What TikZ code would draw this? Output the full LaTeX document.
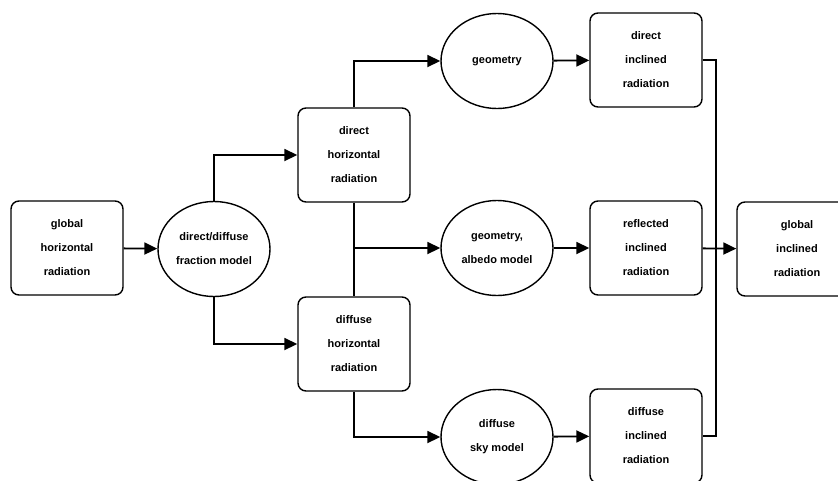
\documentclass[tikz,border=0pt]{standalone}
\usepackage{fontspec}
\setmainfont{Liberation Sans}
\usetikzlibrary{shapes.geometric,arrows.meta}

\begin{document}
\begin{tikzpicture}[x=1pt,y=1pt]
\tikzstyle{every node}+=[font=\fontsize{11}{24}\selectfont\bfseries, align=center, line width=1.4pt]
\tikzstyle{box}=[draw, rounded corners=8pt, minimum width=112pt, minimum height=94pt, inner sep=0pt]
\tikzstyle{model}=[draw, ellipse, minimum width=112pt, minimum height=95pt, inner sep=0pt]
\tikzstyle{flow}=[line width=1.8pt, -{Triangle[length=13pt,width=12pt]}]
\tikzstyle{wire}=[line width=1.8pt]
\useasboundingbox (0,0) rectangle (838,-480);
\node [box] (ghr) at (67,-248) {global\\horizontal\\radiation};
\node [model] (frac) at (214,-249) {direct/diffuse\\fraction model};
\node [box] (dhr) at (354,-155) {direct\\horizontal\\radiation};
\node [box] (fhr) at (354,-344) {diffuse\\horizontal\\radiation};
\node [model] (geo) at (497,-61) {geometry};
\node [model] (alb) at (497,-248) {geometry,\\albedo model};
\node [model] (sky) at (497,-437) {diffuse\\sky model};
\node [box] (dir) at (646,-60) {direct\\inclined\\radiation};
\node [box] (refl) at (646,-248) {reflected\\inclined\\radiation};
\node [box] (dif) at (646,-436) {diffuse\\inclined\\radiation};
\node [box, minimum width=120pt] (gir) at (797,-249) {global\\inclined\\radiation};
\coordinate (bus) at (716,-248);
\draw [flow] (ghr) -- (frac);
\draw [flow] (frac.north) |- (dhr.west);
\draw [flow] (frac.south) |- (fhr.west);
\draw [wire] (dhr.south) -- (fhr.north);
\draw [flow] (dhr.south |- alb.west) -- (alb.west);
\draw [flow] (dhr.north) |- (geo.west);
\draw [flow] (fhr.south) |- (sky.west);
\draw [flow] (geo) -- (dir);
\draw [flow] (alb) -- (refl);
\draw [flow] (sky) -- (dif);
\draw [wire] (dir.east) -| (bus) |- (dif.east);
\draw [flow] (refl) -- (gir);
\end{tikzpicture}
\end{document}
